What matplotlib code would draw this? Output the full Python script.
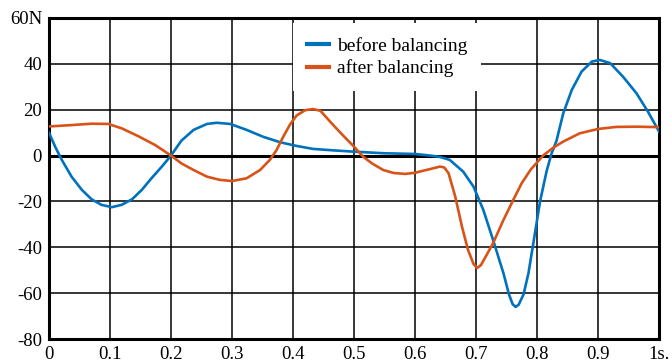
import matplotlib.pyplot as plt

# --- values ---
t_before = [0.0, 0.01, 0.021, 0.037, 0.054, 0.07, 0.086, 0.103, 0.119, 0.136,
            0.152, 0.168, 0.185, 0.2, 0.217, 0.237, 0.259, 0.275, 0.297, 0.324,
            0.351, 0.379, 0.406, 0.433, 0.47, 0.5, 0.55, 0.6, 0.625, 0.641,
            0.657, 0.679, 0.696, 0.712, 0.728, 0.745, 0.754, 0.76, 0.765,
            0.77, 0.778, 0.786, 0.794, 0.805, 0.816, 0.824, 0.832, 0.843,
            0.857, 0.873, 0.89, 0.903, 0.92, 0.941, 0.963, 0.982, 1.0]
f_before = [10.0, 3.9, -1.9, -9.2, -15.0, -19.1, -21.5, -22.5, -21.5, -19.1,
            -15.0, -9.9, -4.8, 0.0, 6.5, 11.2, 13.8, 14.3, 13.8, 11.2,
            8.2, 5.8, 4.2, 2.9, 2.2, 1.7, 1.0, 0.7, 0.0, -0.6,
            -1.9, -7.0, -13.6, -23.7, -36.8, -51.3, -60.5, -64.8, -66.0,
            -65.0, -60.5, -51.3, -38.2, -20.0, -6.5, 1.0, 6.5, 18.4,
            28.6, 36.6, 41.0, 41.7, 40.3, 34.4, 27.2, 19.1, 10.5]

t_after = [0.0, 0.037, 0.07, 0.097, 0.119, 0.146, 0.174, 0.2, 0.217, 0.237,
           0.259, 0.28, 0.3, 0.324, 0.346, 0.362, 0.373, 0.384, 0.395, 0.406,
           0.42, 0.433, 0.445, 0.466, 0.483, 0.5, 0.515, 0.53, 0.548, 0.565,
           0.584, 0.6, 0.62, 0.641, 0.648, 0.655, 0.666, 0.677, 0.687, 0.696,
           0.702, 0.708, 0.715, 0.728, 0.745, 0.761, 0.775, 0.79, 0.81, 0.827,
           0.843, 0.87, 0.9, 0.93, 0.963, 1.0]
f_after = [12.7, 13.3, 13.9, 13.8, 11.9, 8.5, 4.6, 0.0, -3.4, -6.3,
           -9.2, -10.6, -11.1, -9.9, -6.3, -1.9, 2.4, 8.2, 13.5, 17.5,
           19.8, 20.3, 19.5, 13.3, 8.5, 3.9, -0.5, -3.5, -6.3, -7.6,
           -8.0, -7.5, -6.2, -4.8, -5.2, -7.7, -17.9, -31.0, -41.2, -47.3,
           -49.0, -47.8, -44.5, -38.2, -28.1, -19.4, -12.0, -6.0, 0.0, 3.5,
           6.1, 9.7, 11.6, 12.5, 12.6, 12.4]

x_ticks = [0, 0.1, 0.2, 0.3, 0.4, 0.5, 0.6, 0.7, 0.8, 0.9, 1.0]
x_labels = ["0", "0.1", "0.2", "0.3", "0.4", "0.5", "0.6", "0.7", "0.8", "0.9", "1s."]
y_ticks = [-80, -60, -40, -20, 0, 20, 40, 60]
y_labels = ["-80", "-60", "-40", "-20", "0", "20", "40", "60N"]

BLUE = "#0072BD"
ORANGE = "#D95319"

plt.rcParams["font.family"] = ["Liberation Serif", "DejaVu Serif"]

fig = plt.figure(figsize=(6.72, 3.63), dpi=100)
ax = fig.add_axes([49 / 672, 1 - 339 / 363, 610 / 672, 321 / 363])

ax.plot(t_before, f_before, color=BLUE, lw=1.9, label="before balancing",
        solid_joinstyle="round", zorder=4)
ax.plot(t_after, f_after, color=ORANGE, lw=1.9, label="after balancing",
        solid_joinstyle="round", zorder=4)

ax.set_xlim(0, 1)
ax.set_ylim(-80, 60)
ax.set_xticks(x_ticks)
ax.set_xticklabels(x_labels)
ax.set_yticks(y_ticks)
ax.set_yticklabels(y_labels)
ax.tick_params(length=0, labelsize=13.5, pad=5)
ax.grid(True, color="black", lw=1.1)
ax.axhline(0, color="black", lw=2.2, zorder=3)
for s in ax.spines.values():
    s.set_linewidth(2.2)

leg = ax.legend(loc="upper left", bbox_to_anchor=(0.4, 0.984), borderaxespad=0,
                fontsize=14, frameon=True, fancybox=False, framealpha=1,
                edgecolor="none", handlelength=1.15, handletextpad=0.4,
                labelspacing=0.25, borderpad=0.7)
leg.set_zorder(5)
for h in leg.get_lines():
    h.set_linewidth(3)

fig.savefig("out.png", dpi=100)
